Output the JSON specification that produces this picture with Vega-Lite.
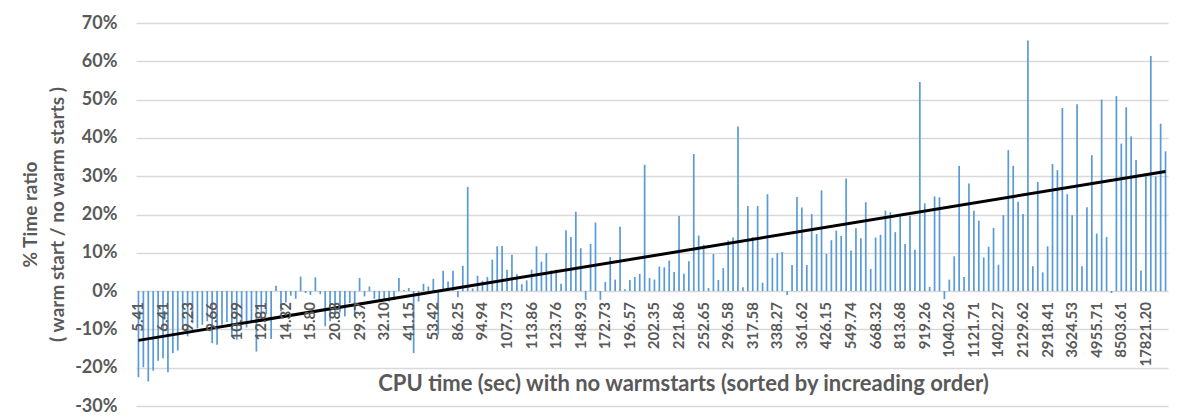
{
  "$schema": "https://vega.github.io/schema/vega-lite/v6.json",
  "autosize": "none",
  "width": 1032,
  "height": 383,
  "padding": {"left": 136, "top": 23, "right": 12, "bottom": 13},
  "background": "white",
  "config": {"view": {"stroke": null}, "font": "Lato", "axis": {"labelOverlap": false}},
  "data": {"values": [
    {"i":0,"label":"5.41","v":-0.225},{"i":1,"v":-0.199},{"i":2,"v":-0.236},{"i":3,"v":-0.208},{"i":4,"v":-0.182},
    {"i":5,"label":"6.41","v":-0.175},{"i":6,"v":-0.212},{"i":7,"v":-0.162},{"i":8,"v":-0.155},{"i":9,"v":-0.101},
    {"i":10,"label":"9.23","v":-0.118},{"i":11,"v":-0.084},{"i":12,"v":-0.097},{"i":13,"v":-0.088},{"i":14,"v":-0.079},
    {"i":15,"label":"9.66","v":-0.136},{"i":16,"v":-0.14},{"i":17,"v":-0.088},{"i":18,"v":-0.081},{"i":19,"v":-0.114},
    {"i":20,"label":"10.99","v":-0.127},{"i":21,"v":-0.088},{"i":22,"v":-0.095},{"i":23,"v":-0.08},{"i":24,"v":-0.158},
    {"i":25,"label":"12.81","v":-0.08},{"i":26,"v":-0.06},{"i":27,"v":-0.125},{"i":28,"v":0.014},{"i":29,"v":-0.053},
    {"i":30,"label":"14.32","v":-0.03},{"i":31,"v":-0.012},{"i":32,"v":-0.02},{"i":33,"v":0.038},{"i":34,"v":-0.005},
    {"i":35,"label":"15.80","v":-0.01},{"i":36,"v":0.036},{"i":37,"v":-0.008},{"i":38,"v":-0.092},{"i":39,"v":-0.079},
    {"i":40,"label":"20.88","v":-0.062},{"i":41,"v":-0.056},{"i":42,"v":-0.066},{"i":43,"v":-0.031},{"i":44,"v":-0.066},
    {"i":45,"label":"29.37","v":0.034},{"i":46,"v":-0.014},{"i":47,"v":0.012},{"i":48,"v":-0.02},{"i":49,"v":-0.028},
    {"i":50,"label":"32.10","v":-0.024},{"i":51,"v":-0.027},{"i":52,"v":-0.023},{"i":53,"v":0.034},{"i":54,"v":0.003},
    {"i":55,"label":"41.15","v":0.008},{"i":56,"v":-0.162},{"i":57,"v":-0.027},{"i":58,"v":0.019},{"i":59,"v":0.012},
    {"i":60,"label":"53.42","v":0.032},{"i":61,"v":-0.114},{"i":62,"v":0.053},{"i":63,"v":0.025},{"i":64,"v":0.053},
    {"i":65,"label":"86.25","v":-0.016},{"i":66,"v":0.066},{"i":67,"v":0.272},{"i":68,"v":0.007},{"i":69,"v":0.04},
    {"i":70,"label":"94.94","v":0.027},{"i":71,"v":0.037},{"i":72,"v":0.082},{"i":73,"v":0.117},{"i":74,"v":0.118},
    {"i":75,"label":"107.73","v":0.056},{"i":76,"v":0.095},{"i":77,"v":0.044},{"i":78,"v":0.018},{"i":79,"v":0.028},
    {"i":80,"label":"113.86","v":0.056},{"i":81,"v":0.117},{"i":82,"v":0.077},{"i":83,"v":0.099},{"i":84,"v":0.054},
    {"i":85,"label":"123.76","v":0.056},{"i":86,"v":0.019},{"i":87,"v":0.159},{"i":88,"v":0.141},{"i":89,"v":0.207},
    {"i":90,"label":"148.93","v":0.112},{"i":91,"v":-0.023},{"i":92,"v":0.123},{"i":93,"v":0.179},{"i":94,"v":-0.023},
    {"i":95,"label":"172.73","v":0.024},{"i":96,"v":0.089},{"i":97,"v":0.03},{"i":98,"v":0.168},{"i":99,"v":0.005},
    {"i":100,"label":"196.57","v":0.029},{"i":101,"v":0.037},{"i":102,"v":0.045},{"i":103,"v":0.33},{"i":104,"v":0.034},
    {"i":105,"label":"202.35","v":0.03},{"i":106,"v":0.064},{"i":107,"v":0.062},{"i":108,"v":0.08},{"i":109,"v":0.05},
    {"i":110,"label":"221.86","v":0.196},{"i":111,"v":0.045},{"i":112,"v":0.078},{"i":113,"v":0.358},{"i":114,"v":0.145},
    {"i":115,"label":"252.65","v":0.121},{"i":116,"v":0.008},{"i":117,"v":0.097},{"i":118,"v":0.029},{"i":119,"v":0.06},
    {"i":120,"label":"296.58","v":0.132},{"i":121,"v":0.14},{"i":122,"v":0.43},{"i":123,"v":0.01},{"i":124,"v":0.222},
    {"i":125,"label":"317.58","v":0.141},{"i":126,"v":0.222},{"i":127,"v":0.022},{"i":128,"v":0.253},{"i":129,"v":0.087},
    {"i":130,"label":"338.27","v":0.099},{"i":131,"v":0.102},{"i":132,"v":-0.01},{"i":133,"v":0.068},{"i":134,"v":0.246},
    {"i":135,"label":"361.62","v":0.218},{"i":136,"v":0.068},{"i":137,"v":0.201},{"i":138,"v":0.149},{"i":139,"v":0.263},
    {"i":140,"label":"426.15","v":0.097},{"i":141,"v":0.133},{"i":142,"v":0.158},{"i":143,"v":0.144},{"i":144,"v":0.294},
    {"i":145,"label":"549.74","v":0.106},{"i":146,"v":0.164},{"i":147,"v":0.138},{"i":148,"v":0.232},{"i":149,"v":0.058},
    {"i":150,"label":"668.32","v":0.14},{"i":151,"v":0.147},{"i":152,"v":0.21},{"i":153,"v":0.206},{"i":154,"v":0.154},
    {"i":155,"label":"813.68","v":0.195},{"i":156,"v":0.123},{"i":157,"v":0.197},{"i":158,"v":0.108},{"i":159,"v":0.546},
    {"i":160,"label":"919.26","v":0.229},{"i":161,"v":0.011},{"i":162,"v":0.247},{"i":163,"v":0.245},{"i":164,"v":-0.021},
    {"i":165,"label":"1040.26","v":0.03},{"i":166,"v":0.091},{"i":167,"v":0.327},{"i":168,"v":0.037},{"i":169,"v":0.281},
    {"i":170,"label":"1121.71","v":0.21},{"i":171,"v":0.184},{"i":172,"v":0.088},{"i":173,"v":0.116},{"i":174,"v":0.165},
    {"i":175,"label":"1402.27","v":0.069},{"i":176,"v":0.198},{"i":177,"v":0.368},{"i":178,"v":0.327},{"i":179,"v":0.233},
    {"i":180,"label":"2129.62","v":0.201},{"i":181,"v":0.654},{"i":182,"v":0.065},{"i":183,"v":0.285},{"i":184,"v":0.049},
    {"i":185,"label":"2918.41","v":0.117},{"i":186,"v":0.332},{"i":187,"v":0.316},{"i":188,"v":0.478},{"i":189,"v":0.253},
    {"i":190,"label":"3624.53","v":0.198},{"i":191,"v":0.488},{"i":192,"v":0.065},{"i":193,"v":0.219},{"i":194,"v":0.355},
    {"i":195,"label":"4955.71","v":0.15},{"i":196,"v":0.5},{"i":197,"v":0.141},{"i":198,"v":-0.005},{"i":199,"v":0.509},
    {"i":200,"label":"8503.61","v":0.385},{"i":201,"v":0.48},{"i":202,"v":0.404},{"i":203,"v":0.342},{"i":204,"v":0.054},
    {"i":205,"label":"17821.20","v":0.299},{"i":206,"v":0.614},{"i":207,"v":0.299},{"i":208,"v":0.437},{"i":209,"v":0.365}
  ]},
  "encoding": {
    "x": {
      "field": "i", "type": "ordinal", "bandPosition": 0.5,
      "scale": {"paddingInner": 0, "paddingOuter": 0},
      "axis": {
        "orient": "bottom", "labels": false, "ticks": false, "domain": false, "grid": false,
        "title": "CPU time (sec) with no warmstarts (sorted by increading order)",
        "titleFont": "Lato", "titleFontSize": 22, "titleFontWeight": "bold", "titleColor": "#595959",
        "titleX": 547, "titleY": -23, "titleBaseline": "middle", "titleAlign": "center"
      }
    },
    "y": {
      "field": "v", "type": "quantitative",
      "scale": {"domain": [-0.3, 0.7], "nice": false, "zero": false},
      "axis": {
        "values": [-0.3, -0.2, -0.1, 0, 0.1, 0.2, 0.3, 0.4, 0.5, 0.6, 0.7],
        "tickCount": 11,
        "format": ".0%", "labelExpr": "replace(datum.label, '−', '-')",
        "labelOverlap": false, "labelBound": false,
        "grid": true, "gridColor": "#d9d9d9", "gridWidth": 1.3,
        "domain": false, "ticks": false, "labelPadding": 19,
        "labelFont": "Lato", "labelFontSize": 18, "labelFontWeight": "bold", "labelColor": "#595959",
        "title": ["% Time ratio", "( warm start / no warm starts )"],
        "titleFont": "Lato", "titleFontSize": 19, "titleFontWeight": "bold", "titleColor": "#595959",
        "titleLineHeight": 27, "titleAngle": -90, "titleX": -106, "titleY": 191, "titleBaseline": "middle", "titleAlign": "center"
      }
    }
  },
  "layer": [
    {
      "mark": {"type": "bar", "color": "#5B9BD5", "width": {"band": 0.35}}
    },
    {
      "transform": [{"regression": "v", "on": "i"}],
      "mark": {"type": "line", "color": "black", "strokeWidth": 3},
      "encoding": {}
    },
    {
      "transform": [{"filter": "isValid(datum.label)"}],
      "mark": {"type": "text", "angle": 270, "align": "right", "baseline": "middle", "dx": -11,
               "font": "Lato", "fontSize": 15, "fontWeight": "bold", "color": "#595959"},
      "encoding": {"y": {"datum": 0, "type": "quantitative"}, "text": {"field": "label"}}
    }
  ]
}
